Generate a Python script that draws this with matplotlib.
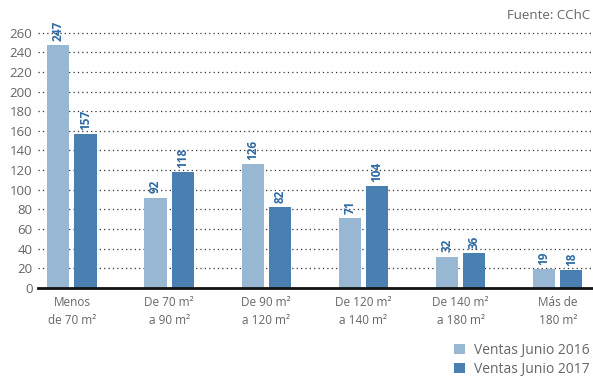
import matplotlib
matplotlib.use("Agg")
import matplotlib.pyplot as plt
import numpy as np

categories = ["Menos\nde 70 m²", "De 70 m²\na 90 m²", "De 90 m²\na 120 m²",
              "De 120 m²\na 140 m²", "De 140 m²\na 180 m²", "Más de\n180 m²"]
ventas_2016 = [247, 92, 126, 71, 32, 19]
ventas_2017 = [157, 118, 82, 104, 36, 18]
series_names = ["Ventas Junio 2016", "Ventas Junio 2017"]
yticks = list(range(0, 261, 20))

plt.rcParams['font.family'] = ['Open Sans', 'DejaVu Sans']

c_light = "#98b7d2"
c_dark = "#4a7fb1"
c_label = "#2f6aa3"
c_text = "#666666"

fig = plt.figure(figsize=(5.93, 3.8), dpi=100)
ax = fig.add_axes([0.064, 0.242, 0.934, 0.711])

x = np.arange(len(categories))
w = 0.228
off = 0.14
b1 = ax.bar(x - off, ventas_2016, w, color=c_light, label=series_names[0], zorder=3)
b2 = ax.bar(x + off, ventas_2017, w, color=c_dark, label=series_names[1], zorder=3)

for bars, vals in ((b1, ventas_2016), (b2, ventas_2017)):
    for r, v in zip(bars, vals):
        ax.annotate(str(v), (r.get_x() + r.get_width() / 2, v),
                    xytext=(0, 3), textcoords="offset points",
                    rotation=90, ha="center", va="bottom",
                    fontsize=8.5, fontweight="bold", color=c_label)

ax.set_xlim(-0.35, 5.35)
ax.set_ylim(0, 275)
ax.set_yticks(yticks)
ax.tick_params(axis="y", length=0, labelsize=9.5, labelcolor=c_text, pad=4)
ax.set_xticks(x)
ax.set_xticklabels(categories, fontsize=8.5, color=c_text, linespacing=1.5)
ax.tick_params(axis="x", length=0, pad=6)
ax.yaxis.grid(True, linestyle=(0, (1, 2.5)), color="#333333", linewidth=0.9, zorder=0)
for s in ("top", "right", "left"):
    ax.spines[s].set_visible(False)
ax.spines["bottom"].set_color("#111111")
ax.spines["bottom"].set_linewidth(2)
ax.spines["bottom"].set_zorder(4)

fig.text(0.995, 0.943, "Fuente: CChC", ha="right", va="bottom", fontsize=9.5, color=c_text)

leg = fig.legend(handles=[b1, b2], loc="lower right", bbox_to_anchor=(1.015, -0.025),
                 frameon=False, fontsize=10, handlelength=0.8, handleheight=0.8,
                 handletextpad=0.6, labelspacing=0.3)
for t in leg.get_texts():
    t.set_color(c_text)

fig.savefig("out.png", dpi=100)
